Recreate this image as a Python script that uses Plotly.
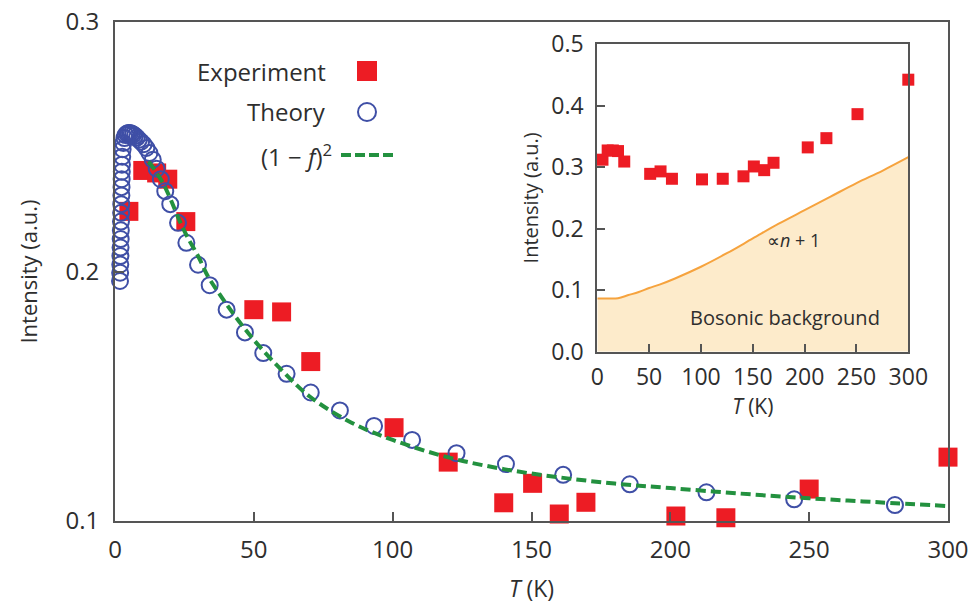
import plotly.graph_objects as go

# ---------------- data ----------------
# Experiment (main panel): temperature (K) and normalised intensity
exp_T = [5, 10, 15, 19, 25.5, 50, 60, 70.5, 100.5, 120, 140, 150.4, 160, 169.6, 202, 220, 250, 300]
exp_I = [0.2241, 0.2405, 0.2395, 0.2370, 0.2200, 0.1847, 0.1838, 0.1639, 0.1374, 0.1236,
         0.1073, 0.1151, 0.1028, 0.1075, 0.1020, 0.1013, 0.1128, 0.1256]

# Theory (main panel)
theory_T = [1.80, 1.85, 1.90, 1.95, 2.00, 2.05, 2.10, 2.15, 2.20, 2.25, 2.30, 2.35, 2.40, 2.45, 2.50,
            2.60, 2.75, 3.0, 3.4, 3.8, 4.3, 4.8, 5.4, 6.0, 6.6, 7.2, 7.9, 8.6, 9.4, 10.3, 11.3,
            12.4, 13.6, 15.0, 16.5, 18.1, 19.9, 22.7, 25.7, 29.9, 34.1, 40.2, 46.8, 53.4, 61.8,
            70.5, 81.0, 93.3, 107.0, 123.0, 140.8, 161.4, 185.4, 213.0, 244.6, 280.9]
theory_I = [0.1962, 0.1995, 0.2028, 0.2062, 0.2096, 0.2130, 0.2165, 0.2200, 0.2235, 0.2270,
            0.2305, 0.2338, 0.2370, 0.2400, 0.2428, 0.2460, 0.2490, 0.2515, 0.2535, 0.2547,
            0.2553, 0.2555, 0.2555, 0.2553, 0.2549, 0.2544, 0.2537, 0.2528, 0.2520, 0.2510,
            0.2495, 0.2475, 0.2448, 0.2412, 0.2370, 0.2322, 0.2270, 0.2195, 0.2115, 0.2027,
            0.1945, 0.1847, 0.1756, 0.1673, 0.1590, 0.1515, 0.1443, 0.1381, 0.1325, 0.1272,
            0.1228, 0.1185, 0.1147, 0.1115, 0.1087, 0.1064]

# (1 - f)^2 curve
curve_T = [12, 13, 15, 17.5, 20, 23, 26, 30, 33.5, 37, 42, 50, 60, 70, 85, 100, 120, 140,
           160, 180, 200, 225, 250, 275, 300]
curve_I = [0.2440, 0.2428, 0.2395, 0.2350, 0.2290, 0.2210, 0.2140, 0.2060, 0.1980, 0.1920,
           0.1840, 0.1726, 0.1605, 0.1500, 0.1395, 0.1325, 0.1255, 0.1208, 0.1175, 0.1150,
           0.1132, 0.1110, 0.1091, 0.1075, 0.1060]

# Inset: raw intensity and bosonic background (proportional to n + 1)
inset_T = [5, 10, 15, 20, 26, 51, 61, 72, 101, 121, 141, 151, 161, 170, 203, 221, 251, 300]
inset_I = [0.312, 0.327, 0.327, 0.326, 0.309, 0.289, 0.293, 0.281, 0.280, 0.281, 0.285,
           0.301, 0.295, 0.307, 0.332, 0.347, 0.386, 0.442]
bg_T = [0, 10, 20, 30, 40, 50, 60, 75, 100, 125, 150, 175, 200, 225, 250, 275, 300]
bg_I = [0.0865, 0.0865, 0.0870, 0.0920, 0.0970, 0.1035, 0.1090, 0.1190, 0.1380, 0.1600,
        0.1840, 0.2080, 0.2300, 0.2520, 0.2740, 0.2940, 0.3160]

main_xticks = [0, 50, 100, 150, 200, 250, 300]
main_yticks = [0.1, 0.2, 0.3]
inset_xticks = [0, 50, 100, 150, 200, 250, 300]
inset_yticks = [0.0, 0.1, 0.2, 0.3, 0.4, 0.5]

# ---------------- styling ----------------
W, H = 977, 605
ML, MR, MT, MB = 115, 29, 22, 84
FONT = "Open Sans"
TXT = "#2e2e2e"
AX = "#555555"
RED = "#ED1C24"
BLUE = "#3F4FA6"
GREEN = "#23913F"
ORANGE = "#F6A33E"
PEACH = "#FDEBCB"

pw = W - ML - MR
ph = H - MT - MB


def px(x):
    return (x - ML) / pw


def py(y):
    return (H - MB - y) / ph


fig = go.Figure()

fig.add_trace(go.Scatter(x=exp_T, y=exp_I, mode="markers", cliponaxis=False,
                         marker=dict(symbol="square", size=19, color=RED, line=dict(width=0)),
                         xaxis="x", yaxis="y"))
fig.add_trace(go.Scatter(x=theory_T, y=theory_I, mode="markers", cliponaxis=False,
                         marker=dict(symbol="circle-open", size=16, color=BLUE,
                                     line=dict(width=2, color=BLUE)),
                         xaxis="x", yaxis="y"))
fig.add_trace(go.Scatter(x=curve_T, y=curve_I, mode="lines", line_shape="spline",
                         line=dict(color=GREEN, width=4, dash="10px,5px"),
                         xaxis="x", yaxis="y"))

# inset
fig.add_trace(go.Scatter(x=bg_T, y=bg_I, mode="lines", line_shape="spline",
                         fill="tozeroy", fillcolor=PEACH,
                         line=dict(color=ORANGE, width=2), xaxis="x2", yaxis="y2"))
fig.add_trace(go.Scatter(x=inset_T, y=inset_I, mode="markers", cliponaxis=False,
                         marker=dict(symbol="square", size=12, color=RED, line=dict(width=0)),
                         xaxis="x2", yaxis="y2"))

axis_common = dict(showline=True, linecolor=AX, linewidth=2, mirror=True,
                   ticks="inside", tickcolor=AX, tickwidth=2, showgrid=False,
                   zeroline=False, color=TXT, automargin=False)

fig.update_layout(
    width=W, height=H, showlegend=False,
    margin=dict(l=ML, r=MR, t=MT, b=MB, pad=0, autoexpand=False),
    paper_bgcolor="white", plot_bgcolor="white",
    font=dict(family=FONT, color=TXT),
    xaxis=dict(axis_common, domain=[0, 1], range=[0, 300], tickvals=main_xticks,
               ticklen=9, tickfont=dict(size=24), ticklabelstandoff=6,
               title=dict(text="<i>T</i> (K)", font=dict(size=23), standoff=17)),
    yaxis=dict(axis_common, domain=[0, 1], range=[0.1, 0.3], tickvals=main_yticks,
               ticktext=["0.1", "0.2", "0.3"], ticklen=9, tickfont=dict(size=24),
               ticklabelstandoff=9,
               title=dict(text="Intensity (a.u.)", font=dict(size=22), standoff=22)),
    xaxis2=dict(axis_common, domain=[px(597.3), px(908.3)], anchor="y2", range=[0, 300],
                tickvals=inset_xticks, ticklen=8, tickfont=dict(size=23),
                ticklabelstandoff=4,
                title=dict(text="<i>T</i> (K)", font=dict(size=21), standoff=5)),
    yaxis2=dict(axis_common, domain=[py(351.7), py(44)], anchor="x2", range=[0, 0.5],
                tickvals=inset_yticks, ticktext=["0.0", "0.1", "0.2", "0.3", "0.4", "0.5"],
                ticklen=8, tickfont=dict(size=23), ticklabelstandoff=7,
                title=dict(text="Intensity (a.u.)", font=dict(size=20), standoff=7)),
)

# legend keys (text right-aligned, symbol to the right)
leg_font = dict(family=FONT, size=24, color=TXT)
fig.add_annotation(x=px(328), y=py(71), xref="paper", yref="paper", xanchor="right",
                   yanchor="middle", text="Experiment", showarrow=False, font=leg_font)
fig.add_annotation(x=px(328), y=py(112), xref="paper", yref="paper", xanchor="right",
                   yanchor="middle", text="Theory", showarrow=False, font=leg_font)
fig.add_annotation(x=px(334), y=py(155), xref="paper", yref="paper", xanchor="right",
                   yanchor="middle", text="(1 − <i>f</i>)<sup>2</sup>", showarrow=False,
                   font=leg_font)
fig.add_shape(type="rect", xref="paper", yref="paper", x0=px(357), x1=px(377),
              y0=py(81), y1=py(61), fillcolor=RED, line=dict(width=0))
fig.add_shape(type="circle", xref="paper", yref="paper", x0=px(358), x1=px(376),
              y0=py(121), y1=py(103), line=dict(color=BLUE, width=2))
fig.add_shape(type="line", xref="paper", yref="paper", x0=px(341), x1=px(394),
              y0=py(155), y1=py(155), line=dict(color=GREEN, width=4, dash="10px,4px"))

# inset labels
fig.add_annotation(x=189, y=0.182, xref="x2", yref="y2", text="∝<i>n</i> + 1",
                   showarrow=False, font=dict(family=FONT, size=18, color=TXT))
fig.add_annotation(x=181, y=0.056, xref="x2", yref="y2", text="Bosonic background",
                   showarrow=False, font=dict(family=FONT, size=20, color=TXT))

fig.write_html("out.html")
